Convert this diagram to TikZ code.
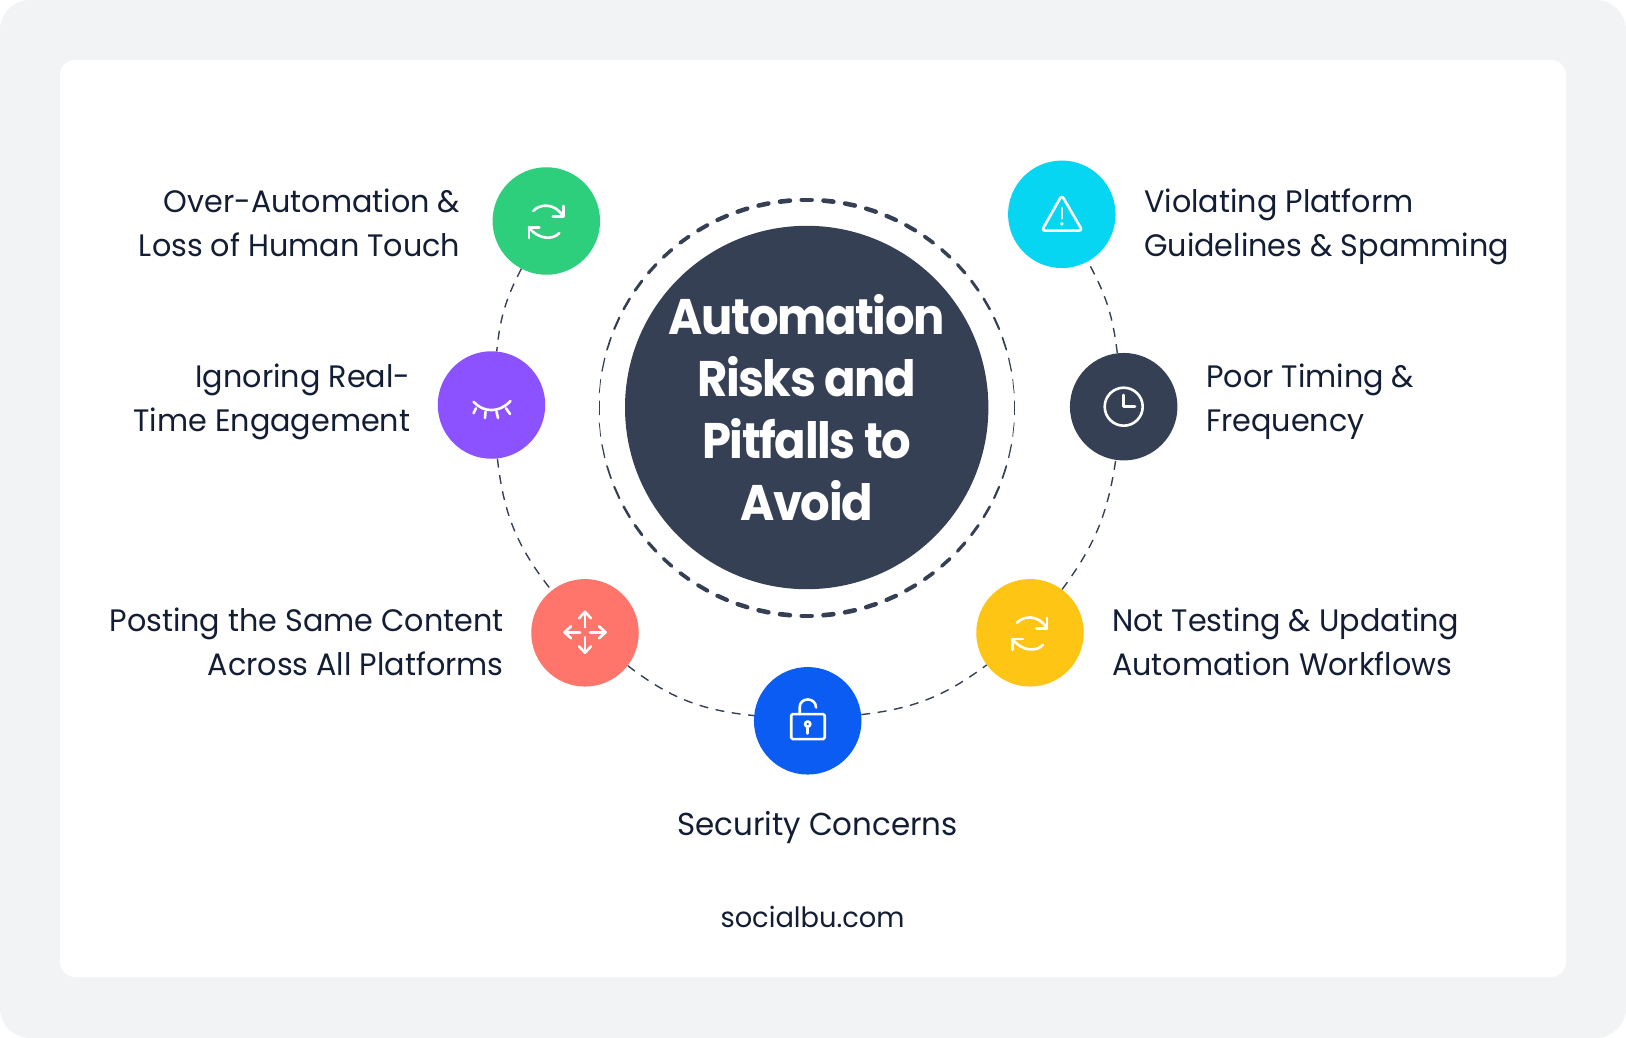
\documentclass[tikz,border=0pt]{standalone}
\usepackage{fontspec}
\setmainfont[FakeStretch=0.975]{Poppins}
\newfontfamily\titlefont[LetterSpace=-2.8,FakeStretch=0.93]{Poppins}
\begin{document}
\begin{tikzpicture}
  [x=1pt,y=-1pt,line cap=round,line join=round,
   % Styles
   bubble/.style={circle,minimum size=107.5pt,inner sep=0pt},
   hub/.style={circle,minimum size=363.4pt,inner sep=0pt,fill=hubcolor},
   hub title/.style={text=white,align=center,font=\titlefont\bfseries\fontsize{50}{62}\selectfont,inner sep=0pt},
   risk label/.style={text=inkcolor,font=\fontsize{31}{44}\selectfont,inner sep=0pt},
   left label/.style={risk label,align=right,anchor=base east},
   right label/.style={risk label,align=left,anchor=base west},
   link/.style={draw=hubcolor,line width=1.4pt,dash pattern=on 9pt off 7.5pt,line cap=butt},
   icon/.style={draw=white,line width=2.6pt}]

  % Colors
  \definecolor{hubcolor}{HTML}{364055}
  \definecolor{inkcolor}{HTML}{131D33}
  \definecolor{pagecolor}{HTML}{F2F3F5}
  \definecolor{greencolor}{HTML}{2DCE7C}
  \definecolor{purplecolor}{HTML}{8C52FF}
  \definecolor{cyancolor}{HTML}{06D6F2}
  \definecolor{coralcolor}{HTML}{FF746B}
  \definecolor{bluecolor}{HTML}{0A5CF2}
  \definecolor{yellowcolor}{HTML}{FEC514}

  \useasboundingbox (0,0) rectangle (1626,1038);

  % The frame
  \fill[pagecolor,rounded corners=30pt] (0,0) rectangle (1626,1038);
  \fill[white,rounded corners=15pt] (60,60) rectangle (1566,977);

  % The hub and its ring
  \node[hub] (center) at (806.7,407.5) {};
  \node[hub title,anchor=base] (title) at (806.7,520.5)
    {Automation\\Risks and\\Pitfalls to\\Avoid};

  \begin{scope}[shift={(806.7,407.9)}]
    \foreach \a in {0,6,...,354} {
      \pgfmathsetmacro\w{0.35+4.3*abs(sin(\a))}
      \pgfmathsetmacro\d{(14.5-\w)/2/208*57.3}
      \draw[hubcolor,line width=\w pt] (\a-\d:208) -- (\a+\d:208);
    }
  \end{scope}

  % The risks, anticlockwise from the top left
  \node[bubble,fill=greencolor] (overauto) at (546.3,221) {};
  \node[bubble,fill=purplecolor] (realtime) at (491.5,405) {};
  \node[bubble,fill=coralcolor] (samepost) at (585,632.8) {};
  \node[bubble,fill=bluecolor] (security) at (807.7,720.8) {};
  \node[bubble,fill=yellowcolor] (testing) at (1030,632.8) {};
  \node[bubble,fill=hubcolor] (timing) at (1123.7,406.7) {};
  \node[bubble,fill=cyancolor] (violating) at (1061.8,214.3) {};

  \draw[link] (overauto) to[bend right=11] (realtime);
  \draw[link] (realtime) to[bend right=16] (samepost);
  \draw[link] (samepost) to[bend right=16] (security);
  \draw[link] (security) to[bend right=15] (testing);
  \draw[link] (testing) to[bend right=14] (timing);
  \draw[link] (timing) to[bend right=11] (violating);

  % The labels
  \node[left label] (overautotext) at (460.5,256.3) {Over-Automation \&\\Loss of Human Touch};
  \node[left label] (realtimetext) at (410.5,431.3) {Ignoring Real-\\Time Engagement};
  \node[left label] (sameposttext) at (504,675.5) {Posting the Same Content\\Across All Platforms};
  \node[right label] (violatingtext) at (1144,256.3) {Violating Platform\\Guidelines \& Spamming};
  \node[right label] (timingtext) at (1206,431.3) {Poor Timing \&\\Frequency};
  \node[right label] (testingtext) at (1112,675.5) {Not Testing \& Updating\\Automation Workflows};
  \node[risk label,anchor=base,font=\fontsize{31.7}{44}\selectfont] (securitytext) at (817.5,835) {Security Concerns};
  \node[risk label,anchor=base,font=\fontsize{28}{44}\selectfont] (sitetext) at (812.5,927) {socialbu.com};

  % The icons
  \foreach \spot in {overauto,testing} {
    \begin{scope}[shift={(\spot)}]
      \draw[icon] (-13,-10) .. controls (-7,-17) and (8,-19) .. (17,-4.5);
      \draw[icon] (17,-15) -- (17,-4.5) -- (6.5,-4.5);
      \draw[icon] (13,12) .. controls (7,19) and (-8,19) .. (-17.5,6.3);
      \draw[icon] (-17.5,17) -- (-17.5,6.3) -- (-7,6.3);
    \end{scope}
  }

  \begin{scope}[shift={(realtime)}]
    \draw[icon] (-18,-3.3) .. controls (-8,8) and (8,8) .. (19,-4);
    \draw[icon] (-15.5,3.3) -- (-18,8.3);
    \draw[icon] (-6,6.7) -- (-6.5,13);
    \draw[icon] (5,6.7) -- (6.5,13);
    \draw[icon] (14.5,3.3) -- (18.5,9);
  \end{scope}

  \begin{scope}[shift={(samepost)},yshift=0.5pt]
    \foreach \r in {0,90,180,270} {
      \begin{scope}[rotate=\r]
        \draw[icon] (5,0) -- (20.5,0);
        \draw[icon] (14,-6) -- (20.5,0) -- (14,6);
      \end{scope}
    }
  \end{scope}

  \begin{scope}[shift={(security)}]
    \draw[icon,rounded corners=1.5pt] (-16.5,-6.7) rectangle (17,18.3);
    \draw[icon] (-8,-6.7) -- (-8,-13.5) .. controls (-8,-24) and (8,-24) .. (8.4,-13.3);
    \draw[icon] (0,3.3) circle [radius=2.6pt];
    \draw[icon] (0,7) -- (0,12.7);
  \end{scope}

  \begin{scope}[shift={(timing)}]
    \draw[icon] (0,0) circle [radius=19pt];
    \draw[icon] (0,-11.7) -- (0,0) -- (11.3,0);
  \end{scope}

  \begin{scope}[shift={(violating)}]
    \draw[icon,rounded corners=3pt] (0,-19) -- (20.5,16.3) -- (-20,16.3) -- cycle;
    \draw[icon] (0,-6) -- (0,4);
    \fill[white] (0,9.6) circle [radius=1.9pt];
  \end{scope}
\end{tikzpicture}
\end{document}
